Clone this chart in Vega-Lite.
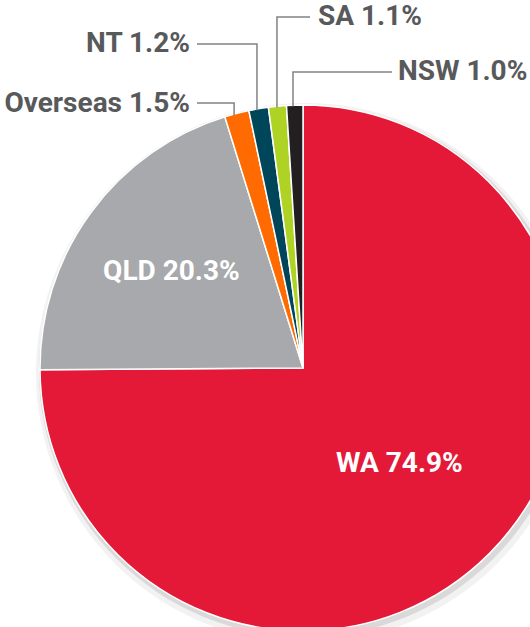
{
  "$schema": "https://vega.github.io/schema/vega-lite/v6.json",
  "width": 606,
  "height": 736,
  "padding": 0,
  "autosize": {"type": "none"},
  "background": "white",
  "config": {"view": {"stroke": null}},
  "datasets": {
    "shares": [
      {"region": "WA", "share": 74.9, "rank": 1, "label": "WA 74.9%"},
      {"region": "QLD", "share": 20.3, "rank": 2, "label": "QLD 20.3%"},
      {"region": "Overseas", "share": 1.5, "rank": 3, "label": "Overseas 1.5%"},
      {"region": "NT", "share": 1.2, "rank": 4, "label": "NT 1.2%"},
      {"region": "SA", "share": 1.1, "rank": 5, "label": "SA 1.1%"},
      {"region": "NSW", "share": 1.0, "rank": 6, "label": "NSW 1.0%"}
    ],
    "leaders": [
      {"region": "Overseas", "step": 1, "lx": -0.403, "ly": 1.008},
      {"region": "Overseas", "step": 2, "lx": -0.262, "ly": 1.008},
      {"region": "Overseas", "step": 3, "lx": -0.262, "ly": 0.96},
      {"region": "NT", "step": 1, "lx": -0.403, "ly": 1.232},
      {"region": "NT", "step": 2, "lx": -0.175, "ly": 1.232},
      {"region": "NT", "step": 3, "lx": -0.175, "ly": 0.98},
      {"region": "SA", "step": 1, "lx": 0.027, "ly": 1.335},
      {"region": "SA", "step": 2, "lx": -0.099, "ly": 1.335},
      {"region": "SA", "step": 3, "lx": -0.099, "ly": 0.99},
      {"region": "NSW", "step": 1, "lx": 0.338, "ly": 1.125},
      {"region": "NSW", "step": 2, "lx": -0.038, "ly": 1.125},
      {"region": "NSW", "step": 3, "lx": -0.038, "ly": 0.995}
    ],
    "outer": [
      {"label": "Overseas 1.5%", "side": "left", "lx": -0.43, "ly": 1.004},
      {"label": "NT 1.2%", "side": "left", "lx": -0.43, "ly": 1.232},
      {"label": "SA 1.1%", "side": "right", "lx": 0.057, "ly": 1.335},
      {"label": "NSW 1.0%", "side": "right", "lx": 0.361, "ly": 1.125}
    ]
  },
  "layer": [
    {
      "data": {"values": [{"k": 1}]},
      "mark": {"type": "arc", "outerRadius": 270, "fill": "#000000", "opacity": 0.05, "xOffset": 3, "yOffset": 5},
      "encoding": {}
    },
    {
      "data": {"values": [{"k": 1}]},
      "mark": {"type": "arc", "outerRadius": 266, "fill": "#000000", "opacity": 0.1, "xOffset": 2, "yOffset": 3},
      "encoding": {}
    },
    {
      "data": {"name": "shares"},
      "mark": {"type": "arc", "outerRadius": 263, "stroke": "white", "strokeWidth": 1.5},
      "encoding": {
        "theta": {"field": "share", "type": "quantitative", "stack": true},
        "order": {"field": "rank", "type": "quantitative"},
        "color": {
          "field": "region",
          "type": "nominal",
          "legend": null,
          "scale": {
            "domain": ["WA", "QLD", "Overseas", "NT", "SA", "NSW"],
            "range": ["#E31937", "#A7A9AC", "#FF6B00", "#00465A", "#AFD324", "#231F20"]
          }
        }
      }
    },
    {
      "data": {"name": "shares"},
      "mark": {"type": "text", "font": "Roboto", "fontWeight": "bold", "fontSize": 28, "fill": "white", "align": "center", "baseline": "middle", "radius": 163},
      "encoding": {
        "theta": {"field": "share", "type": "quantitative", "stack": true},
        "order": {"field": "rank", "type": "quantitative"},
        "text": {"condition": {"test": "datum.region === 'QLD'", "field": "label"}, "value": ""}
      }
    },
    {
      "data": {"name": "shares"},
      "mark": {"type": "text", "font": "Roboto", "fontWeight": "bold", "fontSize": 28, "fill": "white", "align": "center", "baseline": "middle", "radius": 136},
      "encoding": {
        "theta": {"field": "share", "type": "quantitative", "stack": true},
        "order": {"field": "rank", "type": "quantitative"},
        "text": {"condition": {"test": "datum.region === 'WA'", "field": "label"}, "value": ""}
      }
    },
    {
      "data": {"name": "leaders"},
      "mark": {"type": "line", "stroke": "#808285", "strokeWidth": 1.5, "interpolate": "linear"},
      "encoding": {
        "x": {"field": "lx", "type": "quantitative", "axis": null, "scale": {"domain": [-1.1521, 1.1521], "nice": false, "zero": false}},
        "y": {"field": "ly", "type": "quantitative", "axis": null, "scale": {"domain": [-1.3992, 1.3992], "nice": false, "zero": false}},
        "detail": {"field": "region", "type": "nominal"},
        "order": {"field": "step", "type": "quantitative"}
      }
    },
    {
      "data": {"name": "outer"},
      "transform": [{"filter": "datum.side === 'left'"}],
      "mark": {"type": "text", "font": "Roboto", "fontWeight": "bold", "fontSize": 28, "fill": "#58595B", "align": "right", "baseline": "middle"},
      "encoding": {
        "x": {"field": "lx", "type": "quantitative", "axis": null, "scale": {"domain": [-1.1521, 1.1521], "nice": false, "zero": false}},
        "y": {"field": "ly", "type": "quantitative", "axis": null, "scale": {"domain": [-1.3992, 1.3992], "nice": false, "zero": false}},
        "text": {"field": "label"}
      }
    },
    {
      "data": {"name": "outer"},
      "transform": [{"filter": "datum.side === 'right'"}],
      "mark": {"type": "text", "font": "Roboto", "fontWeight": "bold", "fontSize": 28, "fill": "#58595B", "align": "left", "baseline": "middle"},
      "encoding": {
        "x": {"field": "lx", "type": "quantitative", "axis": null, "scale": {"domain": [-1.1521, 1.1521], "nice": false, "zero": false}},
        "y": {"field": "ly", "type": "quantitative", "axis": null, "scale": {"domain": [-1.3992, 1.3992], "nice": false, "zero": false}},
        "text": {"field": "label"}
      }
    }
  ]
}
